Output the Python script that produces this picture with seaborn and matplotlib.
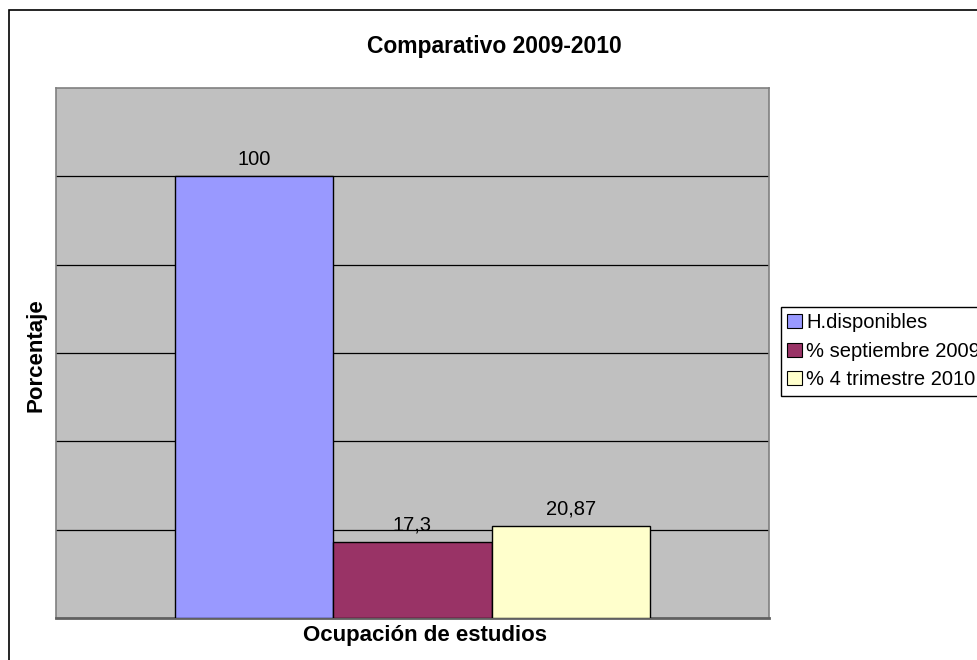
import pandas as pd
import numpy as np
import matplotlib
matplotlib.use('Agg')
import matplotlib.pyplot as plt
import matplotlib.patches as patches
import seaborn as sns

categoria = ['Ocupación de estudios']
series = ['H.disponibles', '% septiembre 2009', '% 4 trimestre 2010']
valores = [100, 17.3, 20.87]
colores = ['#9999FF', '#993366', '#FFFFCC']

data = pd.DataFrame({'cat': categoria * len(series), 'serie': series, 'valor': valores})

sns.set_style('white')
plt.rcParams['font.family'] = ['Liberation Sans', 'DejaVu Sans']
plt.rcParams['text.color'] = 'black'
plt.rcParams['axes.labelcolor'] = 'black'

fig = plt.figure(figsize=(9.78, 6.6), dpi=100)
ax = fig.add_axes([56/978, 42/660, 713/978, 530/660])
ax.set_facecolor('#C0C0C0')

sns.barplot(data=data, x='cat', y='valor', hue='serie', palette=colores,
            width=2/3, edgecolor='black', linewidth=1, saturation=1, ax=ax, legend=False, zorder=3)

ax.set_ylim(0, 120)
ax.set_xlim(-0.5, 0.5)
ax.set_yticks(np.arange(20, 120, 20))
ax.set_yticklabels([])
ax.set_xticks([])
ax.tick_params(length=0)
ax.yaxis.grid(True, color='black', linewidth=0.9)
ax.set_axisbelow(True)
for s in ax.spines.values():
    s.set_color('#808080')
    s.set_linewidth(1.2)
ax.spines['bottom'].set_color('#606060')
ax.spines['bottom'].set_linewidth(2)

for cont, v in zip(ax.containers, valores):
    ax.bar_label(cont, labels=[f'{v:g}'.replace('.', ',')], padding=5, fontsize=14.5)

ax.set_xlabel('')
ax.set_ylabel('')
fig.text(425/978, 1 - 636/660, 'Ocupación de estudios', ha='center', va='center',
         fontsize=16, fontweight='bold')
fig.text(36/978, 1 - 355/660, 'Porcentaje', ha='center', va='center', rotation=90,
         fontsize=16, fontweight='bold')
fig.text(494/978, 1 - 47/660, 'Comparativo 2009-2010', ha='center', va='center',
         fontsize=16.5, fontweight='bold')

handles = [patches.Patch(facecolor=c, edgecolor='black', linewidth=0.8) for c in colores]
fig.legend(handles, series, loc='upper left', bbox_to_anchor=(781/978, 1 - 307/660),
           fontsize=14.5, frameon=True, fancybox=False, edgecolor='black', framealpha=1,
           handlelength=0.7, handleheight=0.7, handletextpad=0.22, borderpad=0.32,
           labelspacing=0.47, borderaxespad=0)

fig.patches.append(patches.Rectangle((9/978, -0.2), 1.2, 1 - 10/660 + 0.2,
                                     transform=fig.transFigure, fill=False,
                                     edgecolor='black', linewidth=1.2))

plt.savefig('out.png', dpi=100)
